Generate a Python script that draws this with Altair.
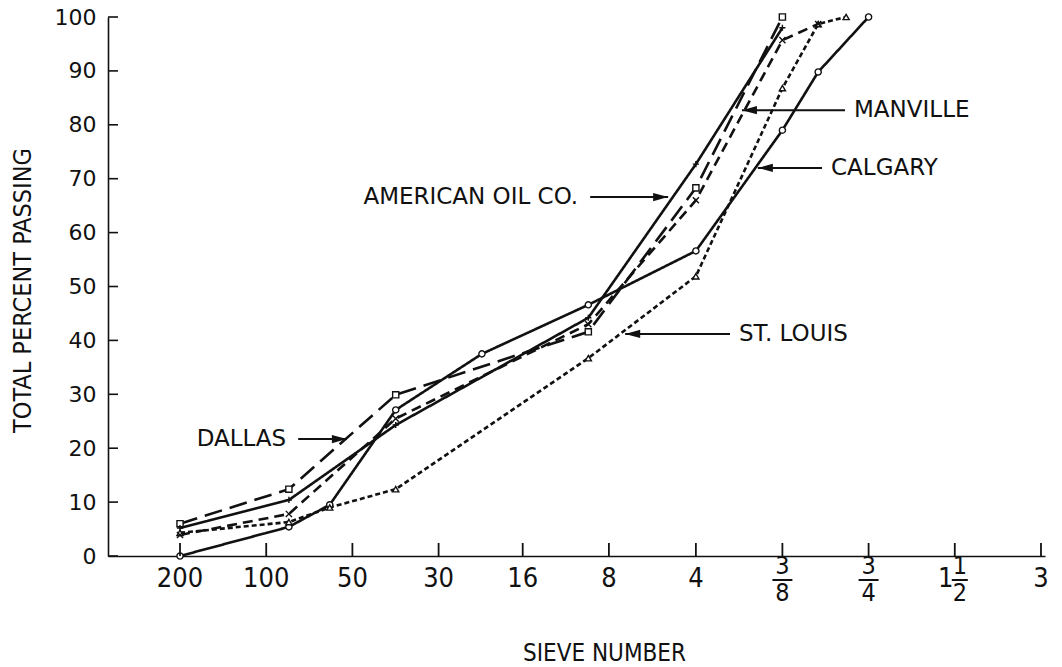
import altair as alt
import pandas as pd

# Sieve openings (mm) used for the horizontal log scale
SIEVE_MM = {
    "200": 0.075, "80": 0.180, "60": 0.250, "40": 0.425, "20": 0.850,
    "10": 2.00, "4": 4.75, "3/8": 9.525, "1/2": 12.7, "5/8": 15.9, "3/4": 19.05,
}

# Gradation curves: sieve -> total percent passing
calgary_sieves = ["200", "80", "60", "40", "20", "10", "4", "3/8", "1/2", "3/4"]
calgary_pct = [0, 5.4, 9.5, 27.1, 37.5, 46.6, 56.6, 79.0, 89.8, 100]

st_louis_sieves = ["200", "80", "60", "40", "10", "4", "3/8", "1/2", "5/8"]
st_louis_pct = [4.3, 6.3, 9.0, 12.4, 36.7, 51.9, 86.8, 98.7, 100]

dallas_sieves = ["200", "80", "40", "10", "4", "3/8"]
dallas_pct = [6.0, 12.4, 29.9, 41.6, 68.3, 100]

american_oil_sieves = ["200", "80", "40", "10", "4", "3/8"]
american_oil_pct = [5.2, 10.4, 24.3, 44.2, 72.7, 98.0]

manville_sieves = ["200", "80", "40", "10", "4", "3/8", "1/2"]
manville_pct = [3.9, 7.8, 25.5, 43.0, 66.0, 95.7, 98.7]

series_names = ["CALGARY", "ST. LOUIS", "DALLAS", "AMERICAN OIL CO.", "MANVILLE"]
series_sieves = [calgary_sieves, st_louis_sieves, dallas_sieves,
                 american_oil_sieves, manville_sieves]
series_pct = [calgary_pct, st_louis_pct, dallas_pct, american_oil_pct, manville_pct]

# Axis ticks
tick_mm = [0.075, 0.150, 0.300, 0.600, 1.18, 2.36, 4.75, 9.525, 19.05, 38.1, 76.2]
tick_whole = ["200", "100", "50", "30", "16", "8", "4", "", "", "1", "3"]
tick_num = ["", "", "", "", "", "", "", "3", "3", "1", ""]
tick_den = ["", "", "", "", "", "", "", "8", "4", "2", ""]
y_ticks = [0, 10, 20, 30, 40, 50, 60, 70, 80, 90, 100]

# Curve labels with arrows
ann_label = ["AMERICAN OIL CO.", "MANVILLE", "CALGARY", "ST. LOUIS", "DALLAS"]
ann_pct = [66.6, 82.7, 72.0, 41.2, 21.7]
ann_tail = [2.03, 15.76, 13.1, 6.25, 0.194]
ann_tip = [3.80, 6.88, 7.82, 2.69, 0.287]
ann_dir = ["right", "left", "left", "left", "right"]

rows = []
for name, sv, pc in zip(series_names, series_sieves, series_pct):
    for s, p in zip(sv, pc):
        rows.append({"series": name, "sieve": s, "mm": SIEVE_MM[s], "pct": p})
curves = pd.DataFrame(rows)

ticks = pd.DataFrame({"mm": tick_mm, "whole": tick_whole, "num": tick_num, "den": tick_den})
yt = pd.DataFrame({"v": y_ticks})
ann = pd.DataFrame({"label": ann_label, "pct": ann_pct, "tail": ann_tail,
                    "tip": ann_tip, "dir": ann_dir})

W, H = 937, 539
INK = "#111111"
NUM_FONT = "DejaVu Sans"
NARROW = "DejaVu Sans Condensed, Liberation Sans Narrow, Roboto Condensed, Liberation Sans"

xscale = alt.Scale(type="log", domain=[0.04203, 78.7], nice=False)
yscale = alt.Scale(domain=[0, 100], nice=False)

dash_scale = alt.Scale(
    domain=series_names,
    range=[[1, 0], [5, 3], [18, 8], [1, 0], [10, 6]],
)
shape_scale = alt.Scale(
    domain=series_names,
    range=["circle", "triangle-up", "square",
           "M0,-1L0,1M-1,0L1,0", "M-1,-1L1,1M-1,1L1,-1"],
)

base = alt.Chart(curves)

lines = base.mark_line(color=INK, strokeWidth=2.6).encode(
    x=alt.X("mm:Q", scale=xscale,
            axis=alt.Axis(values=tick_mm, labels=False, ticks=False, grid=False,
                          domainColor=INK, domainWidth=1.6,
                          title="SIEVE NUMBER", titleFont=NARROW, titleFontSize=24,
                          titleFontWeight="normal", titleColor=INK,
                          titleX=496, titleY=97, titleBaseline="middle",
                          titleAnchor="start", titleAlign="center")),
    y=alt.Y("pct:Q", scale=yscale,
            axis=alt.Axis(values=y_ticks, ticks=False, grid=False,
                          domainColor=INK, domainWidth=1.6,
                          labelFont=NUM_FONT, labelFontSize=22, labelColor=INK,
                          labelPadding=12,
                          title="TOTAL PERCENT PASSING", titleFont=NARROW,
                          titleFontSize=25, titleFontWeight="normal", titleColor=INK,
                          titleX=-86, titleY=273, titleAngle=270,
                          titleBaseline="middle", titleAlign="center")),
    detail="series:N",
    strokeDash=alt.StrokeDash("series:N", scale=dash_scale, legend=None),
    order="mm:Q",
)

markers = base.mark_point(fill="white", fillOpacity=1, stroke=INK, strokeWidth=1.4,
                          size=38, opacity=1).encode(
    x=alt.X("mm:Q", scale=xscale),
    y=alt.Y("pct:Q", scale=yscale),
    shape=alt.Shape("series:N", scale=shape_scale, legend=None),
)

curves_layer = alt.layer(lines, markers)

# Inward-pointing tick marks
xticks = alt.Chart(ticks).mark_rule(color=INK, strokeWidth=1.8).encode(
    x=alt.X("mm:Q", scale=xscale),
    y=alt.value(H - 13), y2=alt.value(H),
)
yticks = alt.Chart(yt).mark_rule(color=INK, strokeWidth=1.6).encode(
    y=alt.Y("v:Q", scale=yscale),
    x=alt.value(0), x2=alt.value(10),
)

# Sieve labels under the axis
tick_base = alt.Chart(ticks)
whole_lbl = tick_base.transform_filter(alt.datum.num == "").mark_text(
    font=NARROW, fontSize=27, color=INK, baseline="middle", align="center"
).encode(x=alt.X("mm:Q", scale=xscale), y=alt.value(H + 23), text="whole:N")

mixed = tick_base.transform_filter((alt.datum.num != "") & (alt.datum.whole != ""))
mixed_whole = mixed.mark_text(font=NARROW, fontSize=27, color=INK, baseline="middle",
                              align="center", dx=-9).encode(
    x=alt.X("mm:Q", scale=xscale), y=alt.value(H + 23), text="whole:N")
mixed_num = mixed.mark_text(font=NARROW, fontSize=25, color=INK, baseline="middle",
                            align="center", dx=5).encode(
    x=alt.X("mm:Q", scale=xscale), y=alt.value(H + 10), text="num:N")
mixed_den = mixed.mark_text(font=NARROW, fontSize=25, color=INK, baseline="middle",
                            align="center", dx=5).encode(
    x=alt.X("mm:Q", scale=xscale), y=alt.value(H + 37), text="den:N")
mixed_bar = mixed.mark_rule(color=INK, strokeWidth=2, xOffset=-3, x2Offset=13).encode(
    x=alt.X("mm:Q", scale=xscale), x2="mm:Q", y=alt.value(H + 24))

frac = tick_base.transform_filter(alt.datum.whole == "")
frac_num = frac.mark_text(font=NARROW, fontSize=25, color=INK, baseline="middle",
                          align="center").encode(
    x=alt.X("mm:Q", scale=xscale), y=alt.value(H + 10), text="num:N")
frac_den = frac.mark_text(font=NARROW, fontSize=25, color=INK, baseline="middle",
                          align="center").encode(
    x=alt.X("mm:Q", scale=xscale), y=alt.value(H + 37), text="den:N")
frac_bar = frac.mark_rule(color=INK, strokeWidth=2, xOffset=-10, x2Offset=10).encode(
    x=alt.X("mm:Q", scale=xscale), x2="mm:Q", y=alt.value(H + 24))

# Curve labels with arrows
ann_base = alt.Chart(ann)
arrow_line = ann_base.mark_rule(color=INK, strokeWidth=2).encode(
    x=alt.X("tail:Q", scale=xscale), x2="tip:Q", y=alt.Y("pct:Q", scale=yscale))
arrow_head = ann_base.mark_point(filled=True, color=INK, size=225, opacity=1).encode(
    x=alt.X("tip:Q", scale=xscale), y=alt.Y("pct:Q", scale=yscale),
    shape=alt.Shape("dir:N", scale=alt.Scale(
        domain=["right", "left"],
        range=["M0,0L-2,-0.55L-2,0.55Z", "M0,0L2,-0.55L2,0.55Z"]), legend=None),
)
label_left = ann_base.transform_filter(alt.datum.dir == "right").mark_text(
    font="DejaVu Sans", fontSize=23, color=INK, align="right", baseline="middle", dx=-12
).encode(x=alt.X("tail:Q", scale=xscale), y=alt.Y("pct:Q", scale=yscale), text="label:N")
label_right = ann_base.transform_filter(alt.datum.dir == "left").mark_text(
    font="DejaVu Sans", fontSize=23, color=INK, align="left", baseline="middle", dx=9
).encode(x=alt.X("tail:Q", scale=xscale), y=alt.Y("pct:Q", scale=yscale), text="label:N")

annotations = alt.layer(arrow_line, arrow_head, label_left, label_right)

chart = alt.layer(
    curves_layer, xticks, yticks,
    whole_lbl, mixed_whole, mixed_num, mixed_den, mixed_bar,
    frac_num, frac_den, frac_bar,
    annotations,
).resolve_scale(
    shape="independent", strokeDash="independent",
).properties(
    width=W, height=H,
    padding={"left": 108, "top": 17, "right": 17, "bottom": 111},
    autosize=alt.AutoSizeParams(type="none"),
    background="white",
).configure_view(stroke=None)

chart.save("out.html", embed_options={"renderer": "svg", "actions": False})
